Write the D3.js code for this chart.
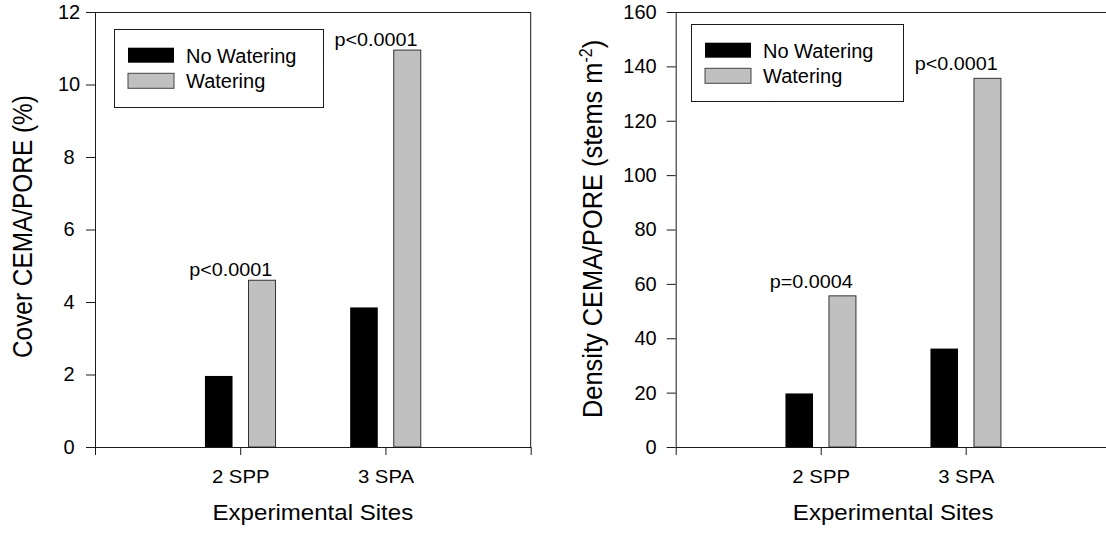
<!DOCTYPE html>
<html>
<head>
<meta charset="utf-8">
<script src="https://cdn.jsdelivr.net/npm/d3@7"></script>
<style>
  html, body { margin: 0; padding: 0; background: #fff; }
  svg { display: block; font-family: "Liberation Sans", Arial, Helvetica, sans-serif; }
</style>
</head>
<body>
<svg id="chart" width="1106" height="538"></svg>
<script>
// Study sites and treatments
const sites = ["2 SPP", "3 SPA"];
const seriesNames = ["No Watering", "Watering"];

// Cover of CEMA/PORE (%)
const coverNoWatering = [1.96, 3.85];
const coverWatering = [4.6, 10.95];
const coverTicks = [0, 2, 4, 6, 8, 10, 12];
const coverP = ["p<0.0001", "p<0.0001"];

// Density of CEMA/PORE (stems m-2)
const densityNoWatering = [19.7, 36.2];
const densityWatering = [55.6, 135.6];
const densityTicks = [0, 20, 40, 60, 80, 100, 120, 140, 160];
const densityP = ["p=0.0004", "p<0.0001"];

const svg = d3.select("#chart");
const INK = "#1a1a1a";
const GREY = "#c0c0c0";

// Draw text widened horizontally around its anchor point.
function wideText(g, x, y, str, size, sx, anchor) {
  return g.append("text")
    .attr("transform", `translate(${x},${y}) scale(${sx},1)`)
    .attr("text-anchor", anchor || "middle")
    .attr("font-size", size)
    .attr("fill", "#000")
    .text(str);
}

function panel(opts) {
  const g = svg.append("g");
  const x = d3.scaleLinear().domain([0, 3]).range([opts.left, opts.right]);
  const y = d3.scaleLinear().domain([0, opts.max]).range([447, 12]);

  // frame: top and right edges
  g.append("line").attr("x1", opts.left).attr("x2", opts.right)
    .attr("y1", y(opts.max) + 0.5).attr("y2", y(opts.max) + 0.5)
    .attr("stroke", INK).attr("stroke-width", 1);
  g.append("line").attr("x1", opts.right).attr("x2", opts.right)
    .attr("y1", y(opts.max)).attr("y2", y(0))
    .attr("stroke", INK).attr("stroke-width", 1);

  // bars
  const rows = sites.map((s, i) => ({
    site: s, c: i + 1,
    a: opts.noWater[i], b: opts.water[i], p: opts.pLabels[i]
  }));
  g.selectAll("rect.nw").data(rows).join("rect").attr("class", "nw")
    .attr("x", d => x(d.c - 0.243))
    .attr("width", d => x(d.c - 0.053) - x(d.c - 0.243))
    .attr("y", d => y(d.a))
    .attr("height", d => y(0) - y(d.a))
    .attr("fill", "#000");
  g.selectAll("rect.w").data(rows).join("rect").attr("class", "w")
    .attr("x", d => x(d.c + 0.057))
    .attr("width", d => x(d.c + 0.243) - x(d.c + 0.057))
    .attr("y", d => y(d.b))
    .attr("height", d => y(0) - y(d.b))
    .attr("fill", GREY).attr("stroke", "#333").attr("stroke-width", 1);

  // significance labels above the watered bars
  rows.forEach(d => {
    wideText(g, x(d.c + 0.15 - 0.215), y(d.b) - opts.pGap, d.p, 18, 1.1);
  });

  // y axis
  const ya = g.append("g").attr("transform", `translate(${opts.left},0)`)
    .call(d3.axisLeft(y).tickValues(opts.ticks).tickSize(9).tickSizeOuter(0).tickPadding(opts.yPad));
  ya.attr("font-family", null);
  ya.select(".domain").attr("stroke", INK);
  ya.selectAll(".tick line").attr("stroke", INK);
  ya.selectAll(".tick text").attr("font-size", 20).attr("fill", "#000")
    .attr("text-anchor", opts.yAnchor)
    .attr("x", opts.yAnchor === "middle" ? opts.yLabelX - opts.left : -(9 + opts.yPad));

  // x axis
  const xa = g.append("g").attr("transform", `translate(0,${y(0)})`)
    .call(d3.axisBottom(x).tickValues([0, 1, 2, 3]).tickSize(8).tickSizeOuter(0).tickPadding(15)
      .tickFormat(v => (v >= 1 && v <= sites.length) ? sites[v - 1] : ""));
  xa.attr("font-family", null);
  xa.select(".domain").attr("stroke", INK);
  xa.selectAll(".tick line").attr("stroke", INK);
  xa.selectAll(".tick text").attr("font-size", 18.5).attr("fill", "#000")
    .attr("transform", "scale(1.1,1)");

  // axis titles
  wideText(g, (opts.left + opts.right) / 2, 520, "Experimental Sites", 22.5, 1.07);

  const yt = g.append("text")
    .attr("transform", `translate(${opts.titleX},${opts.titleY}) scale(1.12,1) rotate(-90)`)
    .attr("text-anchor", "start")
    .attr("font-size", opts.titleSize)
    .attr("fill", "#000");
  opts.title(yt);

  // legend
  const L = opts.legend;
  g.append("rect").attr("x", L.x + 0.5).attr("y", L.y + 0.5)
    .attr("width", L.w).attr("height", L.h)
    .attr("fill", "#fff").attr("stroke", INK).attr("stroke-width", 1);
  const items = [{ name: seriesNames[0], fill: "#000" }, { name: seriesNames[1], fill: GREY }];
  items.forEach((it, i) => {
    const base = L.y + L.first + i * 25.6;
    g.append("rect").attr("x", L.x + 14).attr("y", base - 15)
      .attr("width", 46).attr("height", 15)
      .attr("fill", it.fill).attr("stroke", i ? "#444" : "none").attr("stroke-width", 1);
    g.append("text").attr("x", L.x + 72).attr("y", base)
      .attr("font-size", 20).attr("fill", "#000").text(it.name);
  });
}

panel({
  left: 95, right: 530.7, max: 12, ticks: coverTicks,
  noWater: coverNoWatering, water: coverWatering, pLabels: coverP, pGap: 4,
  yPad: 3, yAnchor: "middle", yLabelX: 69,
  titleX: 32, titleY: 358, titleSize: 24.4,
  title: t => t.text("Cover CEMA/PORE (%)"),
  legend: { x: 114, y: 29, w: 209, h: 78, first: 33.7 }
});

panel({
  left: 675.7, right: 1110.7, max: 160, ticks: densityTicks,
  noWater: densityNoWatering, water: densityWatering, pLabels: densityP, pGap: 8,
  yPad: 10, yAnchor: "end", yLabelX: 657,
  titleX: 602, titleY: 418, titleSize: 25.4,
  title: t => {
    t.append("tspan").text("Density CEMA/PORE (stems m");
    t.append("tspan").attr("dy", -9).attr("font-size", 16).text("-2");
    t.append("tspan").attr("dy", 9).text(")");
  },
  legend: { x: 691, y: 24, w: 212, h: 77, first: 33.7 }
});
</script>
</body>
</html>
